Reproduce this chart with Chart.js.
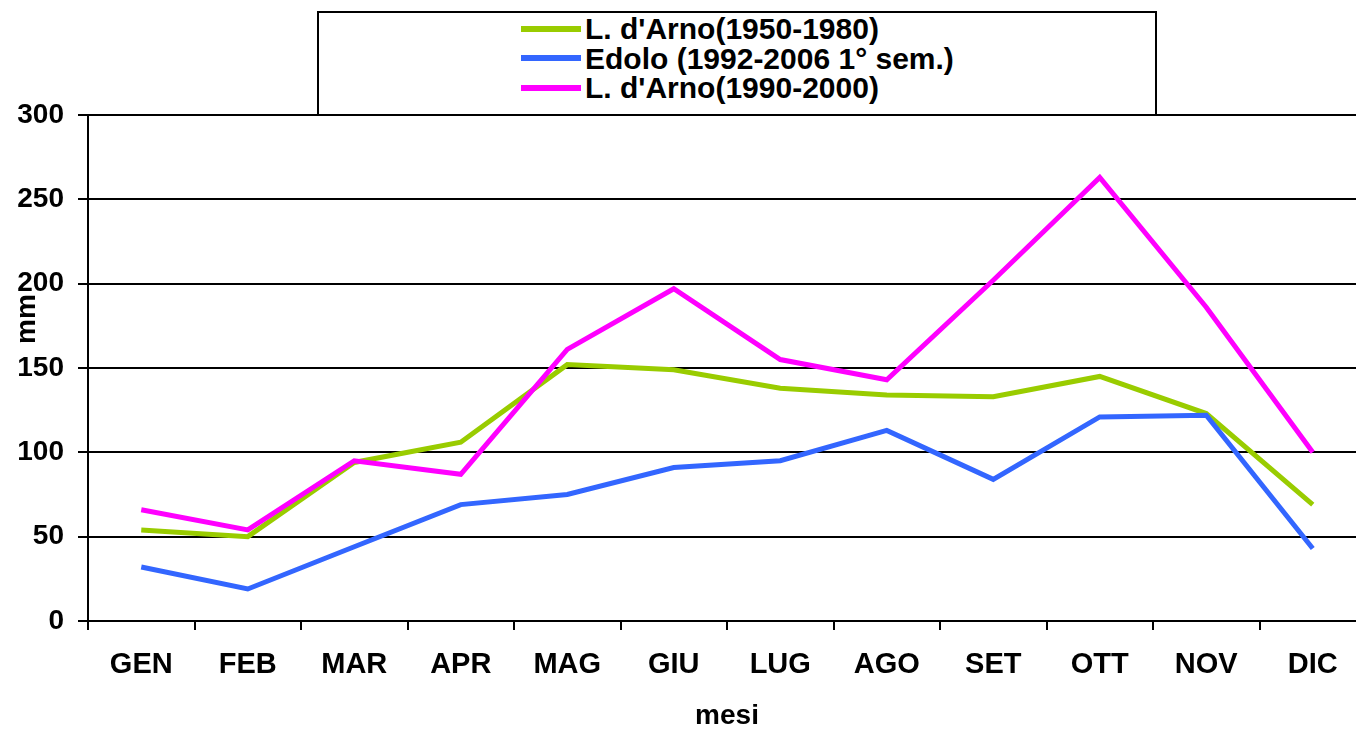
<!DOCTYPE html>
<html>
<head>
<meta charset="utf-8">
<script src="https://cdn.jsdelivr.net/npm/chart.js@4.4.1/dist/chart.umd.min.js"></script>
<style>
  html, body { margin: 0; padding: 0; background: #fff; overflow: hidden; }
  #wrap { position: absolute; left: 0; top: 0; width: 1380px; height: 730px; }
  #legend {
    position: absolute; left: 317px; top: 11px; width: 840px; height: 105px;
    box-sizing: border-box; border: 2px solid #000; background: #fff;
    font: bold 30px "Liberation Sans", Arial, sans-serif; color: #000;
    padding-left: 202px; padding-top: 1px;
  }
  #legend .row { height: 29.5px; line-height: 29.5px; display: flex; align-items: center; white-space: nowrap; }
  #legend .swatch { width: 60px; height: 6px; margin-right: 4px; flex: none; }
</style>
</head>
<body>
<div id="wrap"><canvas id="chart"></canvas></div>
<div id="legend"></div>
<script>
// Monthly rainfall (mm)
const MONTHS = ['GEN','FEB','MAR','APR','MAG','GIU','LUG','AGO','SET','OTT','NOV','DIC'];
const ARNO_1950_80 = [54, 50, 94, 106, 152, 149, 138, 134, 133, 145, 123, 69];
const EDOLO_92_06  = [32, 19, 44, 69, 75, 91, 95, 113, 84, 121, 122, 43];
const ARNO_1990_00 = [66, 54, 95, 87, 161, 197, 155, 143, 202, 263, 186, 100];

const SERIES_NAMES  = ["L. d'Arno(1950-1980)", 'Edolo (1992-2006 1° sem.)', "L. d'Arno(1990-2000)"];
const SERIES_COLORS = ['#99CC00', '#3366FF', '#FF00FF'];

const Y_MIN = 0, Y_MAX = 300, Y_STEP = 50;
const X_TITLE = 'mesi';
const Y_TITLE = 'mm';

Chart.defaults.font.family = '"Liberation Sans", Arial, sans-serif';
Chart.defaults.font.weight = 'bold';
Chart.defaults.font.size = 28;
Chart.defaults.color = '#000';

// ── HTML legend (boxed, left-aligned rows) ─────────────────
const legendEl = document.getElementById('legend');
SERIES_NAMES.forEach((name, i) => {
  const row = document.createElement('div');
  row.className = 'row';
  const sw = document.createElement('span');
  sw.className = 'swatch';
  sw.style.background = SERIES_COLORS[i];
  const txt = document.createElement('span');
  txt.textContent = name;
  row.appendChild(sw);
  row.appendChild(txt);
  legendEl.appendChild(row);
});

// y axis title sits above centre in the original
const yTitlePlugin = {
  id: 'yTitle',
  afterDraw(chart) {
    const ctx = chart.ctx;
    ctx.save();
    ctx.translate(27, 319);
    ctx.rotate(-Math.PI / 2);
    ctx.font = 'bold 28px "Liberation Sans", Arial, sans-serif';
    ctx.fillStyle = '#000';
    ctx.textAlign = 'center';
    ctx.textBaseline = 'middle';
    ctx.fillText(Y_TITLE, 0, 0);
    ctx.restore();
  }
};

const series = [ARNO_1950_80, EDOLO_92_06, ARNO_1990_00];

new Chart(document.getElementById('chart').getContext('2d'), {
  type: 'line',
  data: {
    labels: MONTHS,
    datasets: series.map((data, i) => ({
      label: SERIES_NAMES[i],
      data,
      borderColor: SERIES_COLORS[i],
      backgroundColor: SERIES_COLORS[i],
      borderWidth: 5,
      pointRadius: 0,
      tension: 0,
      fill: false,
      order: 2 - i,
    }))
  },
  options: {
    responsive: true,
    maintainAspectRatio: false,
    animation: false,
    layout: { padding: { top: 115, right: 14, left: 0, bottom: 0 } },
    plugins: {
      legend: { display: false },
      tooltip: { enabled: false }
    },
    scales: {
      x: {
        offset: true,
        grid: {
          offset: true,
          drawOnChartArea: false,
          drawTicks: true,
          tickLength: 9,
          color: '#000',
          lineWidth: 2
        },
        border: { display: true, color: '#000', width: 2 },
        ticks: { padding: 18, maxRotation: 0, autoSkip: false, font: { size: 29 } },
        title: { display: true, text: X_TITLE, padding: 0, font: { size: 28, lineHeight: 1 } },
        afterFit: scale => { scale.height = 109; }
      },
      y: {
        min: Y_MIN,
        max: Y_MAX,
        ticks: { stepSize: Y_STEP, padding: 14 },
        grid: { color: '#000', lineWidth: 2, tickLength: 10 },
        border: { display: true, color: '#000', width: 2 },
        afterFit: scale => { scale.width = 88; }
      }
    }
  },
  plugins: [yTitlePlugin]
});
</script>
</body>
</html>
